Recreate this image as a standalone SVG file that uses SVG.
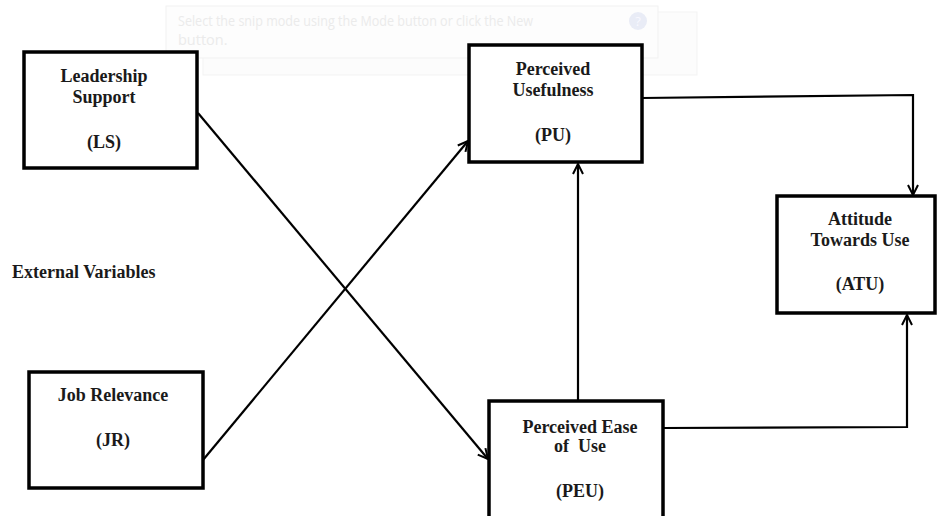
<svg xmlns="http://www.w3.org/2000/svg" width="939" height="516" viewBox="0 0 939 516">
<defs>
<style>
.box{fill:#ffffff;stroke:#000000;stroke-width:3.5}
.lbl{font-family:"Liberation Serif","Times New Roman",serif;font-weight:bold;font-size:18px;fill:#1a1a1a;text-anchor:middle}
.conn{fill:none;stroke:#000000;stroke-width:2.2}
.pop{font-family:"Open Sans","Noto Sans",sans-serif;font-size:14.5px;fill:#ebebeb}
</style>
<marker id="arr" viewBox="0 0 12 12" refX="11" refY="6" markerWidth="12" markerHeight="12" markerUnits="userSpaceOnUse" orient="auto">
<path d="M1,1 L11,6 L1,11" fill="none" stroke="#000" stroke-width="2"/>
</marker>
</defs>
<rect width="939" height="516" fill="#ffffff"/>
<g id="popup">
<rect x="203" y="12" width="494" height="63" fill="#fcfcfc" stroke="#f3f3f3" stroke-width="1"/>
<rect x="166" y="6" width="492" height="52" fill="#fdfdfd" stroke="#f1f1f1" stroke-width="1"/>
<text class="pop" x="178" y="26" textLength="355" lengthAdjust="spacingAndGlyphs">Select the snip mode using the Mode button or click the New</text>
<text class="pop" x="178" y="45">button.</text>
<circle cx="638" cy="21" r="9" fill="#e9ecf6"/>
<text x="638" y="26" font-family="Open Sans, sans-serif" font-size="13" fill="#f8f8ff" text-anchor="middle">?</text>
</g>
<g id="connectors">
<line class="conn" x1="198" y1="113" x2="488" y2="459" marker-end="url(#arr)"/>
<line class="conn" x1="203" y1="460" x2="468" y2="141" marker-end="url(#arr)"/>
<line class="conn" x1="578" y1="401" x2="578" y2="164" marker-end="url(#arr)"/>
<polyline class="conn" points="642,98 913,95 913,195" marker-end="url(#arr)"/>
<polyline class="conn" points="663,428 907,427 907,315" marker-end="url(#arr)"/>
</g>
<g id="LS">
<rect class="box" x="24" y="52" width="173" height="116"/>
<text class="lbl" x="104" y="82">Leadership</text>
<text class="lbl" x="104" y="103">Support</text>
<text class="lbl" x="104" y="148">(LS)</text>
</g>
<g id="JR">
<rect class="box" x="29" y="372" width="174" height="116"/>
<text class="lbl" x="113" y="401">Job Relevance</text>
<text class="lbl" x="113" y="446">(JR)</text>
</g>
<g id="PU">
<rect class="box" x="469" y="45" width="173" height="117"/>
<text class="lbl" x="553" y="75">Perceived</text>
<text class="lbl" x="553" y="96">Usefulness</text>
<text class="lbl" x="553" y="141">(PU)</text>
</g>
<g id="PEU">
<rect class="box" x="489" y="401" width="174" height="130"/>
<text class="lbl" x="580" y="433">Perceived Ease</text>
<text class="lbl" x="580" y="452" xml:space="preserve">of  Use</text>
<text class="lbl" x="580" y="497">(PEU)</text>
</g>
<g id="ATU">
<rect class="box" x="777" y="196" width="158" height="117"/>
<text class="lbl" x="860" y="225">Attitude</text>
<text class="lbl" x="860" y="246">Towards Use</text>
<text class="lbl" x="860" y="290">(ATU)</text>
</g>
<g id="external">
<text class="lbl" x="12" y="278" style="text-anchor:start">External Variables</text>
</g>
</svg>
